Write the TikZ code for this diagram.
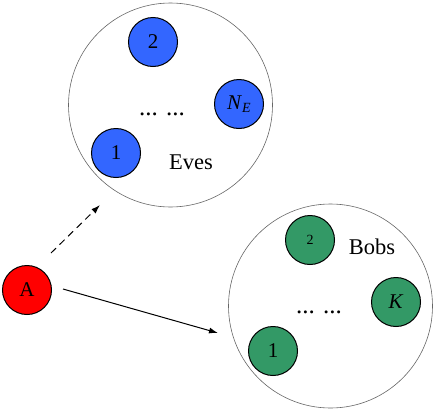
\documentclass[tikz,border=0pt]{standalone}
\usepackage{fontspec}
\setmainfont{Liberation Serif}
\usetikzlibrary{arrows.meta}
\begin{document}
\begin{tikzpicture}[x=1pt,y=-1pt,
  group/.style={circle,draw=black!60,line width=0.6pt,minimum size=204pt,inner sep=0pt},
  eve/.style={circle,draw=black,line width=1pt,fill=blueE,minimum size=49pt,inner sep=0pt,font=\fontsize{21}{21}\selectfont},
  bob/.style={circle,draw=black,line width=1pt,fill=greenB,minimum size=49pt,inner sep=0pt,font=\fontsize{21}{21}\selectfont},
  lbl/.style={font=\fontsize{22.5}{22.5}\selectfont,inner sep=0pt},
  dots/.style={font=\fontsize{25}{25}\selectfont,inner sep=0pt,anchor=base},
  arr/.style={line width=1pt,-{Latex[length=9pt,width=6pt]}}]
\definecolor{blueE}{HTML}{3366FF}
\definecolor{greenB}{HTML}{339966}
\useasboundingbox (0,0) rectangle (436,410);
% Eves
\node[group] (E) at (170.5,105) {};
\node[eve] (e2) at (153,42) {2};
\node[eve] (eN) at (239,104) {\textit{N}\raisebox{-0.35ex}{\fontsize{14}{14}\selectfont\textit{E}}};
\node[eve] (e1) at (116,153) {1};
\node[dots] (edots) at (162,115) {... ...};
\node[lbl] (etxt) at (191,162) {Eves};
% Bobs
\node[group] (B) at (330.5,306) {};
\node[bob,font=\fontsize{14}{14}\selectfont] (b2) at (310,240) {2};
\node[bob] (bK) at (396,302) {\textit{K}};
\node[bob] (b1) at (273,351) {1};
\node[dots] (bdots) at (319,313) {... ...};
\node[lbl] (btxt) at (372,247) {Bobs};
% A
\node[circle,draw=black,line width=1pt,fill=red,minimum size=49pt,inner sep=0pt,font=\fontsize{21}{21}\selectfont] (A) at (27,290) {A};
\coordinate (d0) at (51,253);
\coordinate (d1) at (100,205);
\coordinate (s0) at (63,289);
\coordinate (s1) at (218,333);
\draw[arr,dashed,dash pattern=on 7pt off 5pt] (d0) -- (d1);
\draw[arr] (s0) -- (s1);
\end{tikzpicture}
\end{document}
